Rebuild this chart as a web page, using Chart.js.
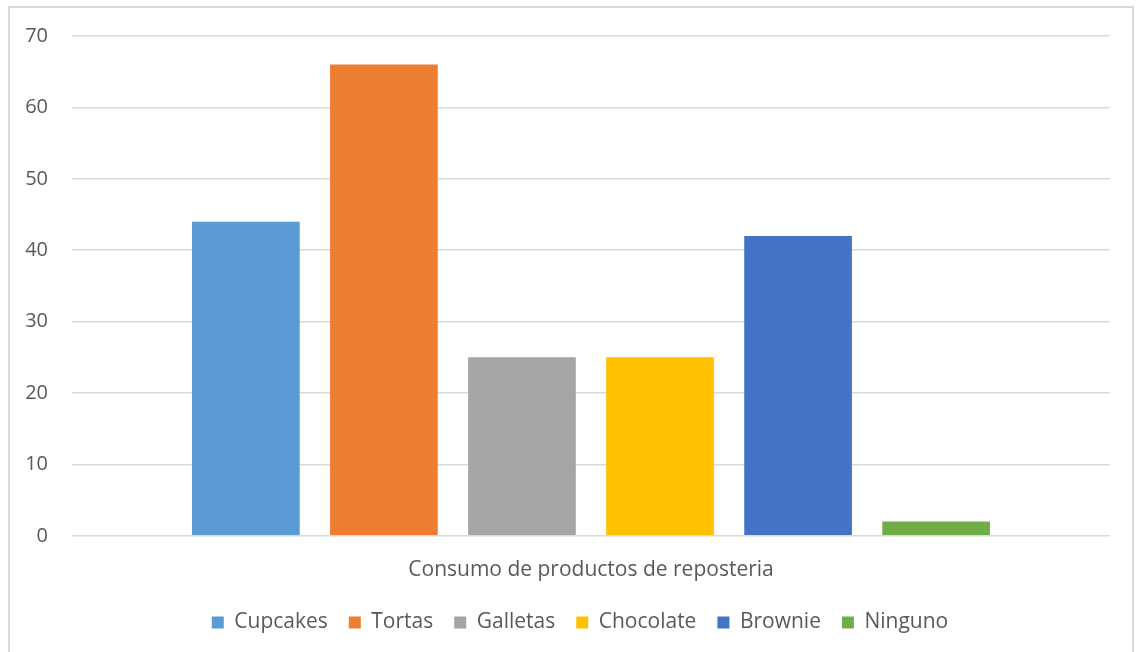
<!DOCTYPE html>
<html>
<head>
    <title>Consumo de productos de reposteria</title>
    <style>
        html, body { margin: 0; padding: 0; background: #ffffff; }
        #wrap { position: relative; width: 1141px; height: 652px; }
    </style>
    <script src="https://cdn.jsdelivr.net/npm/chart.js"></script>
</head>
<body>
    <div id="wrap">
        <canvas id="reposteriaChart" width="1141" height="652"></canvas>
    </div>
    <script>
        // Data
        var categories = ['Consumo de productos de reposteria'];
        var productos = ['Cupcakes', 'Tortas', 'Galletas', 'Chocolate', 'Brownie', 'Ninguno'];
        var valores = [44, 66, 25, 25, 42, 2];
        var colores = ['#5b9bd5', '#ed7d31', '#a5a5a5', '#ffc000', '#4472c4', '#70ad47'];
        var yTicks = [0, 10, 20, 30, 40, 50, 60, 70];

        var fontFamily = '"Open Sans", sans-serif';
        var textColor = '#595959';

        // light grey frame around the whole chart
        var framePlugin = {
            id: 'frame',
            beforeDraw: function (chart) {
                var ctx = chart.ctx;
                ctx.save();
                ctx.fillStyle = '#ffffff';
                ctx.fillRect(0, 0, chart.width, chart.height);
                ctx.strokeStyle = '#d9d9d9';
                ctx.lineWidth = 2;
                ctx.strokeRect(9, 7, chart.width - 17, chart.height + 10);
                ctx.restore();
            }
        };

        // the legend in the original is centred on the whole frame, not the padded area
        var legendShift = {
            id: 'legendShift',
            afterLayout: function (chart) {
                if (chart.legend) {
                    chart.legend.left += 25;
                    chart.legend.right += 25;
                }
            }
        };

        var datasets = productos.map(function (nombre, i) {
            return {
                label: nombre,
                data: [valores[i]],
                backgroundColor: colores[i],
                borderWidth: 0,
                categoryPercentage: 0.798,
                barPercentage: 0.78
            };
        });

        var ctx = document.getElementById('reposteriaChart').getContext('2d');
        var myChart = new Chart(ctx, {
            type: 'bar',
            data: {
                labels: categories,
                datasets: datasets
            },
            options: {
                responsive: false,
                animation: false,
                layout: {
                    padding: { left: 0, right: 31, top: 26, bottom: 9 }
                },
                plugins: {
                    legend: {
                        position: 'bottom',
                        labels: {
                            boxWidth: 12,
                            boxHeight: 12,
                            padding: 21,
                            color: textColor,
                            font: { family: fontFamily, size: 21 }
                        }
                    },
                    tooltip: { enabled: false }
                },
                scales: {
                    x: {
                        grid: { display: false },
                        border: { display: false },
                        afterFit: function (scale) {
                            scale.height -= 6;
                        },
                        ticks: {
                            color: textColor,
                            padding: 14,
                            font: { family: fontFamily, size: 21 }
                        }
                    },
                    y: {
                        min: 0,
                        max: 70,
                        afterBuildTicks: function (scale) {
                            scale.ticks = yTicks.map(function (v) { return { value: v }; });
                        },
                        afterFit: function (scale) {
                            scale.width = 72;
                        },
                        grid: {
                            color: '#d9d9d9',
                            lineWidth: 1.5,
                            drawTicks: false
                        },
                        border: { display: false },
                        ticks: {
                            color: textColor,
                            padding: 24,
                            font: { family: fontFamily, size: 20 }
                        }
                    }
                }
            },
            plugins: [framePlugin, legendShift]
        });
    </script>
</body>
</html>
